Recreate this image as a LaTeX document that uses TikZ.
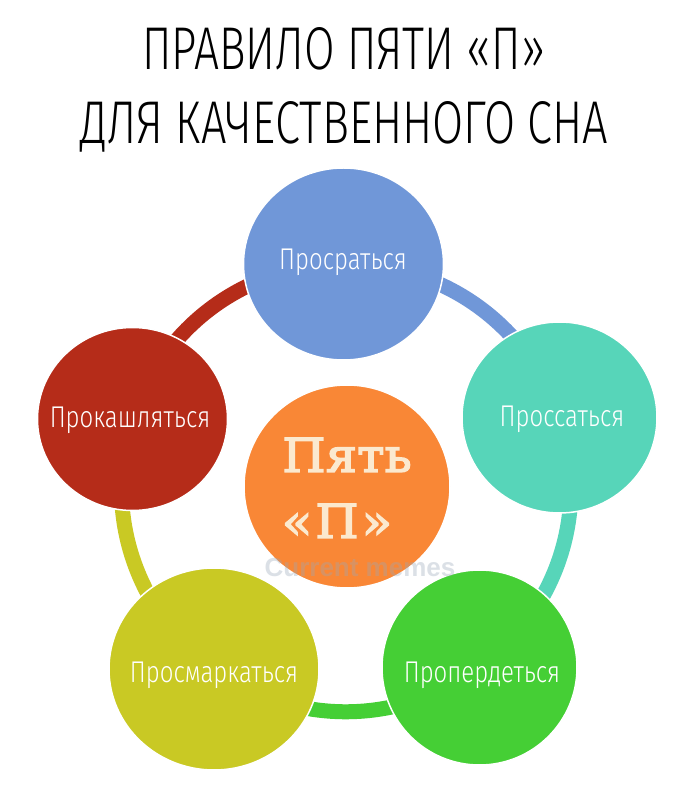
\documentclass[tikz,border=0pt]{standalone}
\usepackage{fontspec}
\usepackage{graphicx}
\usetikzlibrary{shapes.geometric,backgrounds}
\newfontfamily\titlefont{Fira Sans Light}
\newfontfamily\labelfont[FakeStretch=0.8]{Fira Sans Light}
\newfontfamily\centerfont[FakeBold=3,FakeStretch=1.06]{DejaVu Serif}
\newfontfamily\wmfont{Liberation Sans}
\definecolor{cblue}{HTML}{7097D8}
\definecolor{cteal}{HTML}{57D5B9}
\definecolor{cgreen}{HTML}{45CF35}
\definecolor{cyellow}{HTML}{C9C924}
\definecolor{cred}{HTML}{B52C19}
\definecolor{corange}{HTML}{F98736}
\definecolor{ccream}{HTML}{FBE9CF}
\definecolor{cwater}{HTML}{9AA8B8}
\pgfdeclarelayer{back}
\pgfsetlayers{back,background,main}
\begin{document}
\begin{tikzpicture}[x=1pt,y=1pt,
  bubble/.style={ellipse, draw=white, line width=1.5pt, inner sep=0pt},
  ringarc/.style={line width=15pt, bend left=36, looseness=0.95},
  lbl/.style={text=white, font=\labelfont\fontsize{30}{30}\selectfont, inner sep=0pt, anchor=base},
  ctext/.style={text=ccream, font=\centerfont\fontsize{47}{47}\selectfont, inner sep=0pt, anchor=base}]
\begin{pgfonlayer}{back}
\fill[white] (0,0) rectangle (700,809);
\end{pgfonlayer}
\useasboundingbox (0,0) rectangle (700,809);

% title
\node[anchor=base west, inner sep=0pt] (t1) at (142,739) {\resizebox{403pt}{42pt}{\titlefont ПРАВИЛО ПЯТИ «П»}};
\node[anchor=base west, inner sep=0pt] (t2) at (80,665) {\resizebox{528pt}{42pt}{\titlefont ДЛЯ КАЧЕСТВЕННОГО СНА}};

% circles
\node[bubble, fill=cblue, minimum width=200pt, minimum height=192pt] (blue) at (343.5,545) {};
\node[bubble, fill=cteal, minimum width=195pt, minimum height=191pt] (teal) at (559.5,391.5) {};
\node[bubble, fill=cgreen, minimum width=195pt, minimum height=195pt] (green) at (479.5,141.5) {};
\node[bubble, fill=cyellow, minimum width=210pt, minimum height=202pt] (yellow) at (214,140) {};
\node[bubble, fill=cred, minimum width=190pt, minimum height=183pt] (red) at (132.5,390) {};
\node[bubble, fill=corange, minimum width=206pt, minimum height=203pt] (orange) at (347,322.5) {};

% ring segments
\begin{scope}[on background layer]
\draw[ringarc, cblue] (blue.center) to (teal.center);
\draw[ringarc, cteal] (teal.center) to (green.center);
\draw[ringarc, cgreen] (green.center) to (yellow.center);
\draw[ringarc, cyellow] (yellow.center) to (red.center);
\draw[ringarc, cred] (red.center) to (blue.center);
\end{scope}

% labels
\node[lbl] (lblue) at (343,539) {Просраться};
\node[lbl] (lteal) at (562,382) {Проссаться};
\node[lbl] (lgreen) at (482,126) {Пропердеться};
\node[lbl] (lyellow) at (214,126) {Просмаркаться};
\node[lbl] (lred) at (130,381) {Прокашляться};

% centre
\node[ctext] (c1) at (347,337) {Пять};
\node[ctext] (c2) at (337,271) {«\kern3pt П\kern3pt»};

% watermark
\node[anchor=base, inner sep=0pt, text=cwater, text opacity=0.35, font=\wmfont\bfseries\fontsize{26}{26}\selectfont] (wm) at (360,232) {Current memes};
\end{tikzpicture}
\end{document}
